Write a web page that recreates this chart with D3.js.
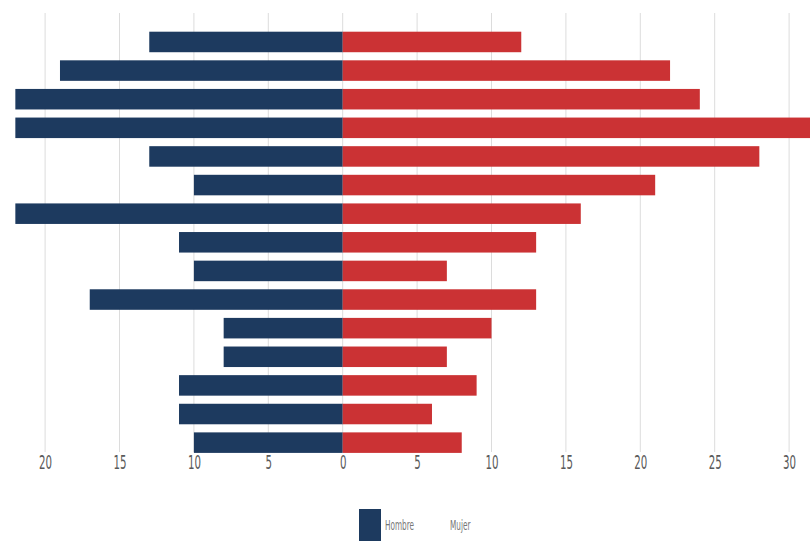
<!DOCTYPE html>
<html><head><meta charset="utf-8">
<script src="https://cdn.jsdelivr.net/npm/d3@7"></script>
<style>
html,body{margin:0;padding:0;background:#fff;overflow:hidden}
text{font-family:"DejaVu Sans Condensed","Liberation Sans Narrow",sans-serif}
</style></head><body>
<svg id="c" width="810" height="541"></svg>
<script>
const categories = ["G1","G2","G3","G4","G5","G6","G7","G8","G9","G10","G11","G12","G13","G14","G15"];
const hombre = [13,19,22,22,13,10,22,11,10,17,8,8,11,11,10];
const mujer  = [12,22,24,32,28,21,16,13,7,13,10,7,9,6,8];
const leftTicks = [20,15,10,5,0];
const rightTicks = [5,10,15,20,25,30];
const seriesNames = ["Hombre","Mujer"];

const svg = d3.select("#c");
const x0 = 342.7, unit = 14.88;
const xR = d3.scaleLinear().domain([0,30]).range([x0, x0+30*unit]);
const xL = d3.scaleLinear().domain([0,20]).range([x0, x0-20*unit]);

const step = 28.62, pi = 0.283, po = 0.14;
const yTop = 31.7 - po*step;
const y = d3.scaleBand().domain(categories)
  .range([yTop, yTop + step*(categories.length - pi + 2*po)])
  .paddingInner(pi).paddingOuter(po);

// gridlines
const g = svg.append("g");
const gridVals = leftTicks.map(v=>xL(v)).concat(rightTicks.map(v=>xR(v)));
g.selectAll("line.grid").data(gridVals).enter().append("line")
  .attr("x1",d=>d).attr("x2",d=>d).attr("y1",13).attr("y2",452)
  .attr("stroke","#dcdcdc").attr("stroke-width",1);

// bars
svg.append("g").selectAll("rect").data(categories).enter().append("rect")
  .attr("x",(d,i)=>xL(hombre[i])).attr("width",(d,i)=>xL(0)-xL(hombre[i]))
  .attr("y",d=>y(d)).attr("height",y.bandwidth()).attr("fill","#1d3a5f");
svg.append("g").selectAll("rect").data(categories).enter().append("rect")
  .attr("x",xR(0)).attr("width",(d,i)=>xR(mujer[i])-xR(0))
  .attr("y",d=>y(d)).attr("height",y.bandwidth()).attr("fill","#cb3234");

// axes
const axL = d3.axisBottom(xL).tickValues(leftTicks).tickSize(0).tickPadding(0);
const axR = d3.axisBottom(xR).tickValues(rightTicks).tickSize(0).tickPadding(0);
const ay = 455;
[axL,axR].forEach(ax=>{
  const a = svg.append("g").attr("transform",`translate(0,${ay})`).call(ax);
  a.select(".domain").remove();
  a.selectAll("text").attr("fill","#5a5a5a").attr("font-size","20px").attr("dy","0.71em")
    .attr("transform","scale(0.57,1)");
});

// legend
svg.append("rect").attr("x",359).attr("y",509).attr("width",22).attr("height",34).attr("fill","#1d3a5f");
svg.append("text").attr("transform","translate(385,530) scale(0.58,1)").text(seriesNames[0])
  .attr("font-size","14px").attr("fill","#777");
svg.append("text").attr("transform","translate(450,530) scale(0.58,1)").text(seriesNames[1])
  .attr("font-size","14px").attr("fill","#777");
</script>
</body></html>
